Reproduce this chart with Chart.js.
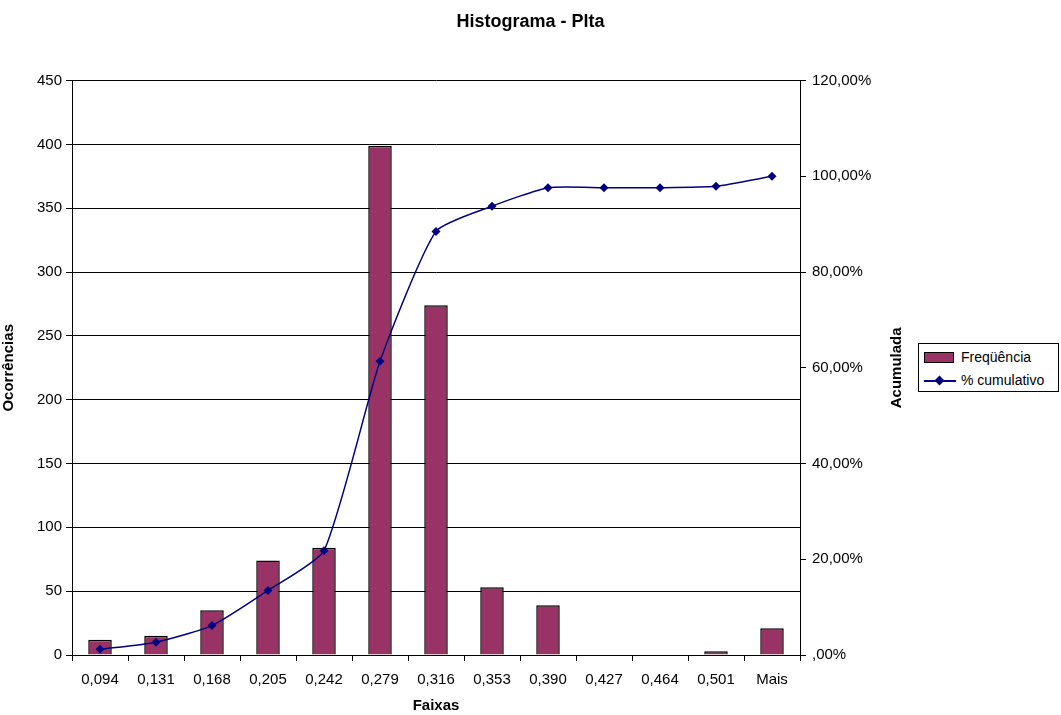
<!DOCTYPE html>
<html>
<head>
<meta charset="utf-8">
<script src="https://cdn.jsdelivr.net/npm/chart.js@4/dist/chart.umd.min.js"></script>
<style>
  html, body { margin: 0; padding: 0; background: #fff; }
  #wrap { position: relative; width: 1061px; height: 715px; }
  canvas { display: block; }
  #legend {
    position: absolute; left: 918px; top: 343px; width: 141px; height: 49px;
    border: 1px solid #000; box-sizing: border-box; background: #fff;
    font-family: Arial, "Liberation Sans", sans-serif; font-size: 14px; color: #000;
  }
  .row { position: absolute; left: 0; height: 20px; line-height: 20px; }
  .sw { position: absolute; left: 5px; top: 5px; width: 28px; height: 9px; background: #993366; border: 1px solid #000; box-sizing: content-box; }
  .ln { position: absolute; left: 5px; top: 10px; width: 32px; height: 2px; background: #000080; }
  .dm { position: absolute; left: 17px; top: 7px; width: 7px; height: 7px; background: #000080; transform: rotate(45deg); }
  .tx { position: absolute; left: 42px; top: 0; white-space: nowrap; }
</style>
</head>
<body>
<div id="wrap">
  <canvas id="c" width="1061" height="715"></canvas>
  <div id="legend">
    <div class="row" style="top:3px;width:140px"><div class="sw"></div><span class="tx">Freqüência</span></div>
    <div class="row" style="top:26px;width:140px"><div class="ln"></div><div class="dm"></div><span class="tx">% cumulativo</span></div>
  </div>
</div>
<script>
const categories = ['0,094','0,131','0,168','0,205','0,242','0,279','0,316','0,353','0,390','0,427','0,464','0,501','Mais'];
const frequencies = [12, 15, 35, 74, 84, 399, 274, 53, 39, 0, 0, 3, 21];
const cumulativePct = [1.19, 2.68, 6.14, 13.48, 21.80, 61.35, 88.50, 93.76, 97.62, 97.62, 97.62, 97.92, 100.00];
const leftTicks = [0, 50, 100, 150, 200, 250, 300, 350, 400, 450];
const rightTicks = [0, 20, 40, 60, 80, 100, 120];

const FONT = 'Arial, "Liberation Sans", sans-serif';

function fmtPct(v) {
  const s = v.toFixed(2).replace('.', ',');
  return (v === 0 ? s.replace(/^0/, '') : s) + '%';
}

const rightTitle = {
  id: 'rightTitle',
  afterDraw(chart) {
    const ctx = chart.ctx;
    const a = chart.chartArea;
    ctx.save();
    ctx.translate(897, (a.top + a.bottom) / 2);
    ctx.rotate(-Math.PI / 2);
    ctx.font = 'bold 15px ' + FONT;
    ctx.fillStyle = '#000';
    ctx.textAlign = 'center';
    ctx.textBaseline = 'middle';
    ctx.fillText('Acumulada', 0, 0);
    ctx.restore();
  }
};

new Chart(document.getElementById('c'), {
  data: {
    labels: categories,
    datasets: [
      {
        type: 'line',
        label: '% cumulativo',
        data: cumulativePct,
        yAxisID: 'y2',
        borderColor: '#000080',
        backgroundColor: '#000080',
        borderWidth: 1.5,
        pointStyle: 'rectRot',
        pointRadius: 4.5,
        pointBorderWidth: 0,
        tension: 0.18,
        order: 0
      },
      {
        type: 'bar',
        label: 'Freqüência',
        data: frequencies,
        yAxisID: 'y',
        backgroundColor: '#993366',
        borderColor: '#000',
        borderWidth: 1.5,
        barPercentage: 0.42,
        categoryPercentage: 1.0,
        order: 1
      }
    ]
  },
  options: {
    responsive: false,
    animation: false,
    layout: { padding: 0 },
    plugins: {
      legend: { display: false },
      tooltip: { enabled: false },
      title: {
        display: true,
        text: 'Histograma - Plta',
        color: '#000',
        font: { family: FONT, size: 18, weight: 'bold' },
        padding: { top: 11, bottom: 48 }
      }
    },
    scales: {
      x: {
        offset: true,
        grid: { display: true, drawOnChartArea: false, drawTicks: true, tickLength: 6, color: '#000', offset: true },
        border: { display: true, color: '#000', width: 1 },
        ticks: { color: '#000', font: { family: FONT, size: 15 }, padding: 10, maxRotation: 0, autoSkip: false },
        title: { display: true, text: 'Faixas', color: '#000', font: { family: FONT, size: 15, weight: 'bold' }, padding: { top: 0, bottom: 0 } },
        afterFit(s) { s.height = 60; }
      },
      y: {
        position: 'left',
        min: 0, max: 450,
        afterBuildTicks(s) { s.ticks = leftTicks.map(v => ({ value: v })); },
        grid: { color: '#000', lineWidth: 1, drawTicks: true, tickLength: 6 },
        border: { display: true, color: '#000', width: 1 },
        ticks: { color: '#000', font: { family: FONT, size: 15 }, padding: 4 },
        title: { display: true, text: 'Ocorrências', color: '#000', font: { family: FONT, size: 15, weight: 'bold' }, padding: { top: 0, bottom: 0 } },
        afterFit(s) { s.width = 72; }
      },
      y2: {
        position: 'right',
        min: 0, max: 120,
        afterBuildTicks(s) { s.ticks = rightTicks.map(v => ({ value: v })); },
        grid: { drawOnChartArea: false, color: '#000', drawTicks: true, tickLength: 6 },
        border: { display: true, color: '#000', width: 1 },
        ticks: { color: '#000', font: { family: FONT, size: 15 }, padding: 6, callback: v => fmtPct(v) },
        afterFit(s) { s.width = 261; }
      }
    }
  },
  plugins: [rightTitle]
});
</script>
</body>
</html>
